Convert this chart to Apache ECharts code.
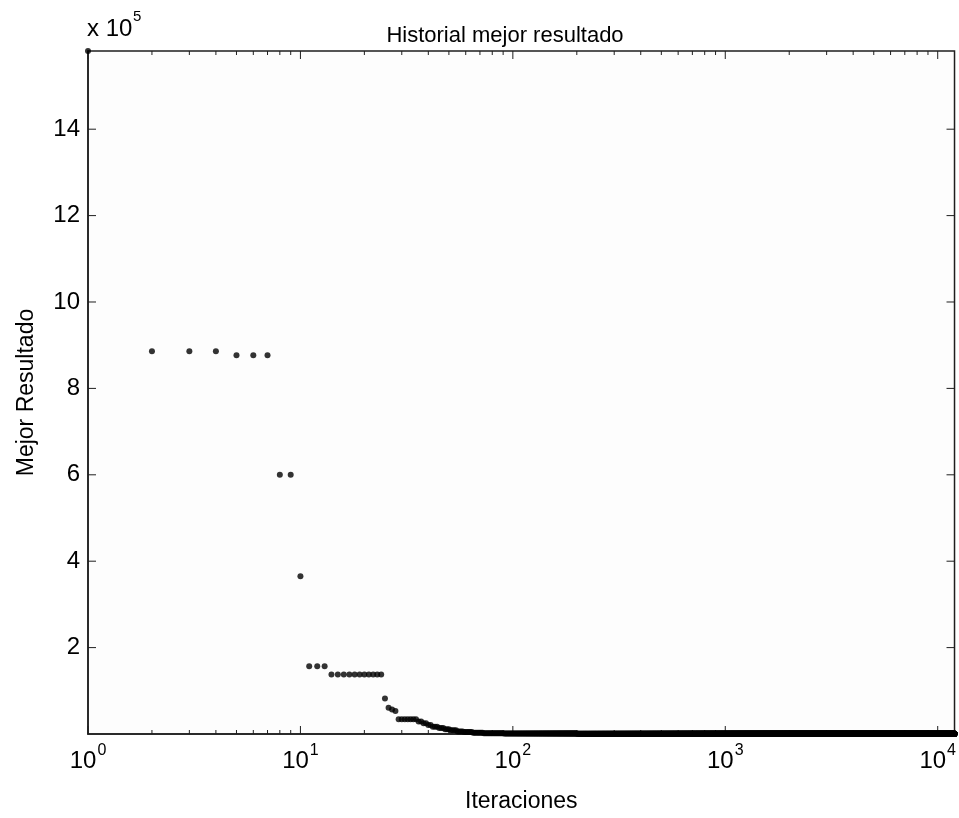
<!DOCTYPE html>
<html>
<head>
<meta charset="utf-8">
<script src="https://cdn.jsdelivr.net/npm/echarts@6/dist/echarts.min.js"></script>
<style>
  html, body { margin: 0; padding: 0; background: #ffffff; }
  #chart { width: 959px; height: 818px; }
</style>
</head>
<body>
<div id="chart"></div>
<script>
// ---- data (best result history, run-length encoded: value held for N iterations) ----
const levelValues = [1581000, 886000, 877000, 600000, 365000, 157000, 138000, 82000, 61000, 57000, 53000,
  34000, 29000, 25000, 21000, 17000, 14000, 11000, 8500, 6000, 4500, 3000, 2000, 1200, 800, 600];
const levelRuns = [1, 3, 3, 2, 1, 3, 11, 1, 1, 1, 1,
  7, 2, 2, 2, 3, 3, 3, 4, 4, 6, 8, 18, 110, 800, 11000];
const xMin = 1, xMax = 12000;
const yMin = 0, yMax = 1581000;
const yTickValues = [200000, 400000, 600000, 800000, 1000000, 1200000, 1400000];
const xMajorTicks = [1, 10, 100, 1000, 10000];
const xMinorTicks = [2,3,4,5,6,7,8,9, 20,30,40,50,60,70,80,90, 200,300,400,500,600,700,800,900,
  2000,3000,4000,5000,6000,7000,8000,9000];

// expand run-length history into one point per iteration
const points = [];
let iter = 1;
for (let i = 0; i < levelValues.length; i++) {
  for (let k = 0; k < levelRuns[i]; k++) { points.push([iter, levelValues[i]]); iter++; }
}

const FONT = 'Liberation Sans, Arial, sans-serif';
const AXC = '#1e1e1e';
const chart = echarts.init(document.getElementById('chart'), null, { renderer: 'canvas' });

function xTickRender(len) {
  return function (params, api) {
    const v = api.value(0);
    const b = api.coord([v, yMin]);
    const t = api.coord([v, yMax]);
    const st = { stroke: AXC, lineWidth: 1 };
    return { type: 'group', children: [
      { type: 'line', shape: { x1: b[0], y1: b[1], x2: b[0], y2: b[1] - len }, style: st },
      { type: 'line', shape: { x1: t[0], y1: t[1], x2: t[0], y2: t[1] + len }, style: st }
    ]};
  };
}
function yTickRender(params, api) {
  const v = api.value(1);
  const l = api.coord([xMin, v]);
  const r = api.coord([xMax, v]);
  const st = { stroke: AXC, lineWidth: 1 };
  return { type: 'group', children: [
    { type: 'line', shape: { x1: l[0], y1: l[1], x2: l[0] + 8, y2: l[1] }, style: st },
    { type: 'line', shape: { x1: r[0], y1: r[1], x2: r[0] - 8, y2: r[1] }, style: st }
  ]};
}

const option = {
  animation: false,
  backgroundColor: '#ffffff',
  title: {
    text: 'Historial mejor resultado',
    left: 500, top: 20, textAlign: 'center',
    textStyle: { fontFamily: FONT, fontSize: 22, fontWeight: 'normal', color: '#000' }
  },
  grid: { left: 88, right: 3, top: 51, bottom: 82, show: true, borderColor: AXC, borderWidth: 1.5, backgroundColor: '#fdfdfd' },
  xAxis: {
    type: 'log', logBase: 10, min: xMin, max: xMax,
    name: 'Iteraciones', nameLocation: 'middle', nameGap: 56,
    nameTextStyle: { fontFamily: FONT, fontSize: 23, color: '#000' },
    axisLine: { show: true, lineStyle: { color: AXC, width: 1.5 } },
    axisTick: { show: false },
    splitLine: { show: false },
    axisLabel: {
      margin: 9,
      formatter: function (v) {
        const e = Math.round(Math.log10(v));
        if (Math.abs(v - Math.pow(10, e)) > 1e-6 * v) return '';
        return '{b|10}{s|' + e + '}';
      },
      rich: {
        b: { fontFamily: FONT, fontSize: 24, color: '#000', verticalAlign: 'bottom' },
        s: { fontFamily: FONT, fontSize: 16, color: '#000', verticalAlign: 'bottom', padding: [0, 0, 14, 1] }
      }
    }
  },
  yAxis: {
    type: 'value', min: yMin, max: yMax, interval: 200000,
    name: 'Mejor Resultado', nameLocation: 'middle', nameGap: 50,
    nameTextStyle: { fontFamily: FONT, fontSize: 23, color: '#000' },
    axisLine: { show: true, lineStyle: { color: AXC, width: 1.5 } },
    axisTick: { show: false },
    splitLine: { show: false },
    axisLabel: {
      fontFamily: FONT, fontSize: 24, color: '#000', margin: 8,
      formatter: function (v) { return (v > 0 && v % 200000 === 0) ? String(v / 100000) : ''; }
    }
  },
  graphic: [
    { type: 'text', left: 87, top: 17, style: { text: 'x 10', fontFamily: FONT, fontSize: 24, fill: '#000' } },
    { type: 'text', left: 133, top: 9, style: { text: '5', fontFamily: FONT, fontSize: 15, fill: '#000' } }
  ],
  series: [
    { type: 'custom', renderItem: xTickRender(4), data: xMinorTicks.map(v => [v, 0]), clip: false, silent: true, z: 5 },
    { type: 'custom', renderItem: xTickRender(8), data: xMajorTicks.map(v => [v, 0]), clip: false, silent: true, z: 5 },
    { type: 'custom', renderItem: yTickRender, data: yTickValues.map(v => [1, v]), clip: false, silent: true, z: 5 },
    {
      type: 'scatter', data: points, symbol: 'circle', symbolSize: 6,
      itemStyle: { color: '#000000' }, progressive: 0, large: false, clip: false, z: 10
    }
  ]
};
chart.setOption(option);
</script>
</body>
</html>
